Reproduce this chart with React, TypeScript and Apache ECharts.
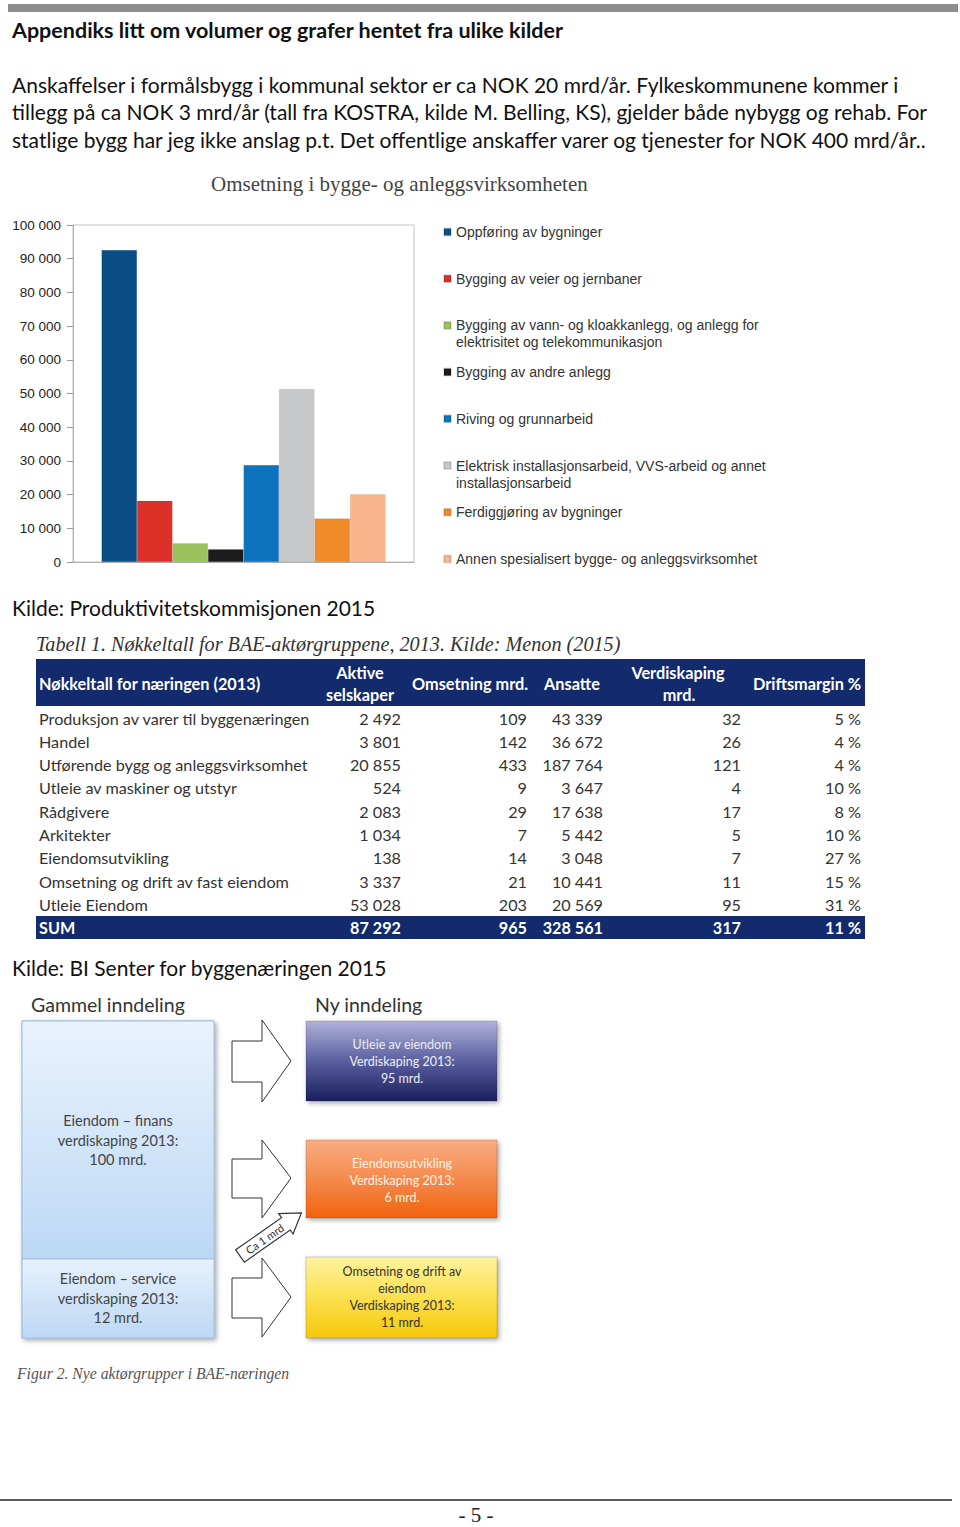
import React, { useEffect, useRef } from "react";
import * as echarts from "echarts";

// ---------- Data ----------
const pageHeading = "Appendiks litt om volumer og grafer hentet fra ulike kilder";
const bodyLines = [
  "Anskaffelser i formålsbygg i kommunal sektor er ca NOK 20 mrd/år. Fylkeskommunene kommer i",
  "tillegg på ca NOK 3 mrd/år (tall fra KOSTRA, kilde M. Belling, KS), gjelder både nybygg og rehab. For",
  "statlige bygg har jeg ikke anslag p.t. Det offentlige anskaffer varer og tjenester for NOK 400 mrd/år..",
];
const chartTitle = "Omsetning i bygge- og anleggsvirksomheten";
const seriesNames = [
  "Oppføring av bygninger",
  "Bygging av veier og jernbaner",
  "Bygging av vann- og kloakkanlegg, og anlegg for\nelektrisitet og telekommunikasjon",
  "Bygging av andre anlegg",
  "Riving og grunnarbeid",
  "Elektrisk installasjonsarbeid, VVS-arbeid og annet\ninstallasjonsarbeid",
  "Ferdiggjøring av bygninger",
  "Annen spesialisert bygge- og anleggsvirksomhet",
];
const seriesValues = [92600, 18200, 5600, 3800, 28800, 51300, 12900, 20100];
const seriesColors = ["#0a4e85", "#dc3129", "#9bc15d", "#1c1c1c", "#0c74be", "#c6c7c9", "#ef8a29", "#f9b68d"];
const yMax = 100000;
const yInterval = 10000;

const source1 = "Kilde: Produktivitetskommisjonen 2015";
const tableTitle = "Tabell 1. Nøkkeltall for BAE-aktørgruppene, 2013. Kilde: Menon (2015)";
const tableRowLabels = [
  "Produksjon av varer til byggenæringen",
  "Handel",
  "Utførende bygg og anleggsvirksomhet",
  "Utleie av maskiner og utstyr",
  "Rådgivere",
  "Arkitekter",
  "Eiendomsutvikling",
  "Omsetning og drift av fast eiendom",
  "Utleie Eiendom",
];
const aktiveSelskaper = [2492, 3801, 20855, 524, 2083, 1034, 138, 3337, 53028];
const omsetningMrd = [109, 142, 433, 9, 29, 7, 14, 21, 203];
const ansatte = [43339, 36672, 187764, 3647, 17638, 5442, 3048, 10441, 20569];
const verdiskapingMrd = [32, 26, 121, 4, 17, 5, 7, 11, 95];
const driftsmargin = [5, 4, 4, 10, 8, 10, 27, 15, 31];
const sumLabel = "SUM";
const sumRow = [87292, 965, 328561, 317, 11];

const source2 = "Kilde: BI Senter for byggenæringen 2015";
const oldHeader = "Gammel inndeling";
const newHeader = "Ny inndeling";
const oldBoxes = [
  "Eiendom – finans\nverdiskaping 2013:\n100 mrd.",
  "Eiendom – service\nverdiskaping 2013:\n12 mrd.",
];
const newBoxes = [
  "Utleie av eiendom\nVerdiskaping 2013:\n95 mrd.",
  "Eiendomsutvikling\nVerdiskaping 2013:\n6 mrd.",
  "Omsetning og drift av\neiendom\nVerdiskaping 2013:\n11 mrd.",
];
const smallArrowLabel = "Ca 1 mrd";
const figCaption = "Figur 2. Nye aktørgrupper i BAE-næringen";
const pageNumber = "- 5 -";

// ---------- Helpers ----------
const fmt = (n: number) => String(n).replace(/\B(?=(\d{3})+(?!\d))/g, " ");
const CAL = "Lato, 'Open Sans', sans-serif";
const ARIAL = "'Liberation Sans', Arial, sans-serif";
const SERIF = "'Liberation Serif', 'Times New Roman', serif";

function txt(text: string, x: number, y: number, o: any = {}) {
  return {
    type: "text",
    x,
    y,
    silent: true,
    style: {
      text,
      fontSize: o.size || 16,
      fontFamily: o.family || CAL,
      fontWeight: o.weight || "normal",
      fontStyle: o.style || "normal",
      fill: o.fill || "#111",
      align: o.align || "left",
      verticalAlign: "middle",
      lineHeight: o.lh,
    },
  };
}

function buildGraphics() {
  const g: any[] = [];
  // top grey bar
  g.push({ type: "rect", shape: { x: 8, y: 4, width: 950, height: 8 }, style: { fill: "#8d8d8d" } });
  g.push(txt(pageHeading, 12, 30, { size: 21.5, weight: "bold" }));
  bodyLines.forEach((l, i) => g.push(txt(l, 12, 84 + i * 27.5, { size: 21 })));

  // legend second lines
  seriesNames.forEach((n, i) => {
    const parts = n.split("\n");
    if (parts[1]) g.push(txt(parts[1], 456, 233 + i * 46.7 + 16, { size: 14, family: ARIAL, fill: "#333" }));
  });

  // source 1
  g.push(txt(source1, 12, 607, { size: 21 }));

  // table
  g.push(txt(tableTitle, 36, 644, { size: 20.2, family: SERIF, style: "italic", fill: "#333" }));
  const navy = "#132a6c";
  g.push({ type: "rect", shape: { x: 36, y: 659, width: 829, height: 47 }, style: { fill: navy } });
  g.push({ type: "rect", shape: { x: 36, y: 916, width: 829, height: 23 }, style: { fill: navy } });
  const hw = { size: 16.3, weight: "bold", fill: "#fff" };
  g.push(txt("Nøkkeltall for næringen (2013)", 39, 683, hw));
  g.push(txt("Aktive", 360, 672, { ...hw, align: "center" }));
  g.push(txt("selskaper", 360, 694, { ...hw, align: "center" }));
  g.push(txt("Omsetning mrd.", 412, 683, hw));
  g.push(txt("Ansatte", 544, 683, hw));
  g.push(txt("Verdiskaping", 678, 672, { ...hw, align: "center" }));
  g.push(txt("mrd.", 679, 694, { ...hw, align: "center" }));
  g.push(txt("Driftsmargin %", 753, 683, hw));
  const colRight = [401, 527, 603, 741, 861];
  const rowStyle = { size: 16.2, fill: "#333" };
  tableRowLabels.forEach((lab, i) => {
    const y = 718 + i * 23.3;
    g.push(txt(lab, 39, y, rowStyle));
    const vals = [
      fmt(aktiveSelskaper[i]),
      fmt(omsetningMrd[i]),
      fmt(ansatte[i]),
      fmt(verdiskapingMrd[i]),
      driftsmargin[i] + " %",
    ];
    vals.forEach((v, j) => g.push(txt(v, colRight[j], y, { ...rowStyle, align: "right" })));
  });
  const sw = { size: 16.2, weight: "bold", fill: "#fff" };
  g.push(txt(sumLabel, 39, 927, sw));
  const sumVals = [fmt(sumRow[0]), fmt(sumRow[1]), fmt(sumRow[2]), fmt(sumRow[3]), sumRow[4] + " %"];
  sumVals.forEach((v, j) => g.push(txt(v, colRight[j], 927, { ...sw, align: "right" })));

  // source 2
  g.push(txt(source2, 12, 967, { size: 21 }));

  // diagram
  g.push(txt(oldHeader, 31, 1004, { size: 19.5, fill: "#333" }));
  g.push(txt(newHeader, 315, 1004, { size: 19.5, fill: "#333" }));
  const shadow = { shadowBlur: 5, shadowColor: "rgba(0,0,0,0.35)", shadowOffsetX: 2, shadowOffsetY: 2 };
  const lg = (stops: [number, string][]) =>
    new echarts.graphic.LinearGradient(0, 0, 0, 1, stops.map(([offset, color]) => ({ offset, color })));
  g.push({
    type: "rect",
    shape: { x: 22, y: 1021, width: 192, height: 317 },
    style: { fill: "#d6e7f9", stroke: "#9db8d4", lineWidth: 1, ...shadow },
  });
  g.push({
    type: "rect",
    shape: { x: 22, y: 1021, width: 192, height: 238 },
    style: { fill: lg([[0, "#e9f3fd"], [1, "#bcd8f5"]]), stroke: "#a6c0db", lineWidth: 1 },
  });
  g.push({
    type: "rect",
    shape: { x: 22, y: 1259, width: 192, height: 79 },
    style: { fill: lg([[0, "#e6f1fc"], [1, "#bdd8f4"]]), stroke: "#a6c0db", lineWidth: 1 },
  });
  g.push(txt(oldBoxes[0], 118, 1140, { size: 14.5, fill: "#444", align: "center", lh: 19.5 }));
  g.push(txt(oldBoxes[1], 118, 1298, { size: 14.5, fill: "#444", align: "center", lh: 19.5 }));

  // big outlined arrows
  const arrows = [
    [1020, 1041, 1061, 1082, 1102],
    [1140, 1159, 1178, 1198, 1218],
    [1258, 1278, 1297, 1318, 1337],
  ];
  arrows.forEach(([ht, st, c, sb, hb]) => {
    g.push({
      type: "polygon",
      shape: { points: [[232, st], [262, st], [262, ht], [291, c], [262, hb], [262, sb], [232, sb]] },
      style: { fill: "#fff", stroke: "#333", lineWidth: 1 },
    });
  });
  // small diagonal arrow
  g.push({
    type: "group",
    x: 240,
    y: 1256,
    rotation: (35 * Math.PI) / 180,
    children: [
      {
        type: "polygon",
        shape: { points: [[0, -7.5], [56, -7.5], [56, -12.5], [75, 0], [56, 12.5], [56, 7.5], [0, 7.5]] },
        style: { fill: "#fff", stroke: "#333", lineWidth: 1.2 },
      },
      {
        type: "text",
        x: 30,
        y: 0,
        style: { text: smallArrowLabel, fontSize: 11, fontFamily: CAL, fill: "#333", align: "center", verticalAlign: "middle" },
      },
    ],
  });

  // right boxes
  const nb = [
    { y: 1021, h: 80, fill: lg([[0, "#b0b2d8"], [0.5, "#5a5fa0"], [1, "#1a1f5c"]]), text: "#eceef8", cy: 1061 },
    { y: 1140, h: 78, fill: lg([[0, "#f9ac83"], [0.5, "#f58a4c"], [1, "#f0620f"]]), text: "#fff3e6", cy: 1180 },
    { y: 1257, h: 81, fill: lg([[0, "#fef39e"], [0.5, "#fbe04e"], [1, "#f6c70a"]]), text: "#333", cy: 1297 },
  ];
  nb.forEach((b, i) => {
    g.push({
      type: "rect",
      shape: { x: 306, y: b.y, width: 191, height: b.h },
      style: { fill: b.fill, stroke: "rgba(0,0,0,0.15)", lineWidth: 1, ...shadow },
    });
    g.push(txt(newBoxes[i], 402, b.cy, { size: 12.5, fill: b.text, align: "center", lh: 17 }));
  });

  g.push(txt(figCaption, 17, 1373, { size: 15.7, family: SERIF, style: "italic", fill: "#555" }));

  // footer
  g.push({ type: "line", shape: { x1: 0, y1: 1500, x2: 952, y2: 1500 }, style: { stroke: "#222", lineWidth: 1.5 } });
  g.push(txt(pageNumber, 476, 1515, { size: 21, family: SERIF, fill: "#222", align: "center" }));
  return g;
}

export default function App() {
  const ref = useRef<HTMLDivElement>(null);
  useEffect(() => {
    if (!ref.current) return;
    const chart = echarts.init(ref.current, undefined, { renderer: "svg" });
    const legends = seriesNames.map((n, i) => ({
      data: [n],
      left: 443,
      top: 233 + i * 46.7 - 8,
      padding: 0,
      icon: "rect",
      itemWidth: 7,
      itemHeight: 7,
      selectedMode: false,
      formatter: (name: string) => name.split("\n")[0],
      textStyle: { fontSize: 14, fontFamily: ARIAL, color: "#333" },
    }));
    chart.setOption({
      animation: false,
      backgroundColor: "#fff",
      title: {
        text: chartTitle,
        left: 211,
        top: 173,
        padding: 0,
        textStyle: { fontSize: 21, fontFamily: SERIF, fontWeight: "normal", color: "#444" },
      },
      legend: legends,
      grid: { left: 73, top: 225, width: 341, height: 337, show: true, borderColor: "#c4c4c4", borderWidth: 1 },
      xAxis: {
        type: "category",
        data: [""],
        axisLine: { show: true, lineStyle: { color: "#b0b0b0" } },
        axisTick: { show: false },
        axisLabel: { show: false },
      },
      yAxis: {
        type: "value",
        min: 0,
        max: yMax,
        interval: yInterval,
        splitLine: { show: false },
        axisLine: { show: true, lineStyle: { color: "#b0b0b0" } },
        axisTick: { show: true, length: 6, lineStyle: { color: "#999" } },
        axisLabel: {
          margin: 12,
          fontSize: 13.5,
          fontFamily: ARIAL,
          color: "#222",
          formatter: (v: number) => fmt(v),
        },
      },
      series: seriesNames.map((n, i) => ({
        type: "bar",
        name: n,
        data: [seriesValues[i]],
        barWidth: 35.5,
        barGap: "0%",
        itemStyle: { color: seriesColors[i], borderColor: "rgba(0,0,0,0.12)", borderWidth: 0.5 },
      })),
      graphic: { elements: buildGraphics() },
    });
    return () => chart.dispose();
  }, []);
  return (
    <div
      ref={ref}
      style={{ position: "absolute", left: 0, top: 0, width: 960, height: 1527 }}
    />
  );
}
